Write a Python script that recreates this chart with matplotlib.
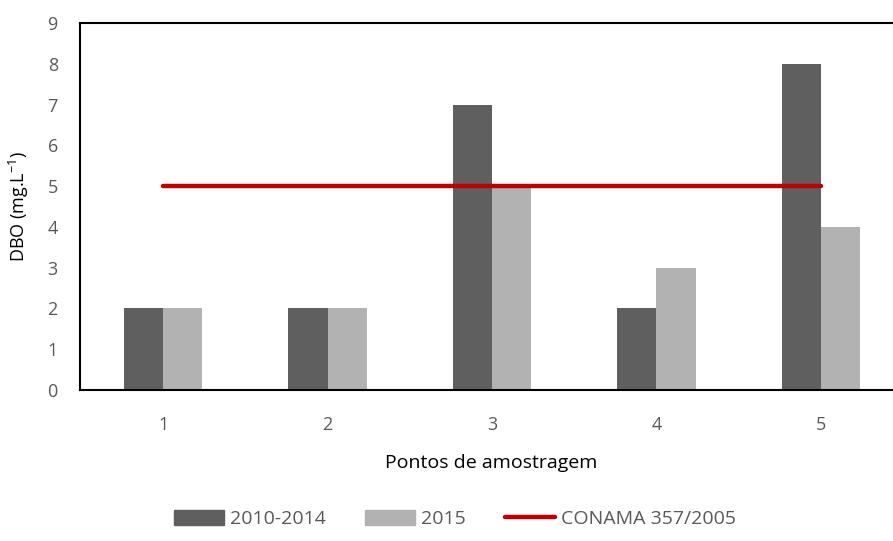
import matplotlib
matplotlib.use("Agg")
import matplotlib.pyplot as plt
from matplotlib.patches import Patch
from matplotlib.lines import Line2D
import numpy as np

categories = ["1", "2", "3", "4", "5"]
s2010_2014 = [2, 2, 7, 2, 8]
s2015 = [2, 2, 5, 3, 4]
conama = [5, 5, 5, 5, 5]
yticks = list(range(0, 10))

plt.rcParams['font.family'] = ['Open Sans', 'DejaVu Sans']
plt.rcParams['mathtext.fontset'] = 'custom'
plt.rcParams['mathtext.rm'] = 'Open Sans'
plt.rcParams['mathtext.it'] = 'Open Sans'

fig = plt.figure(figsize=(8.93, 5.41), dpi=100)
W, H = 893, 541
left, right, top, bottom = 80, 903, 23, 390
ax = fig.add_axes([left / W, 1 - bottom / H, (right - left) / W, (bottom - top) / H])

x = np.arange(1, len(categories) + 1)
bw = 0.238
dark = "#5f5f5f"
light = "#b2b2b2"
red = "#c00000"
ax.bar(x - bw / 2, s2010_2014, bw, color=dark, label="2010-2014")
ax.bar(x + bw / 2, s2015, bw, color=light, label="2015")
ax.plot(x, conama, color=red, lw=3.2, solid_capstyle="round", label="CONAMA 357/2005", zorder=3)

ax.set_xlim(0.494, 5.5)
ax.set_ylim(0, 9)
ax.set_yticks(yticks)
ax.set_xticks(x)
ax.set_xticklabels(categories)
ax.tick_params(axis="both", length=0, colors="#595959", labelsize=13)
ax.tick_params(axis="x", pad=19)
ax.tick_params(axis="y", pad=16)
for sp in ax.spines.values():
    sp.set_color("black")
    sp.set_linewidth(1.5)

ax.set_xlabel("Pontos de amostragem", fontsize=14, color="black", labelpad=14)
ax.set_ylabel("DBO (mg.L$\\mathregular{^{-1}}$)", fontsize=13, color="black", labelpad=12)

handles = [Patch(color=dark, label="2010-2014"), Patch(color=light, label="2015"),
           Line2D([0], [0], color=red, lw=3.2, solid_capstyle="round", label="CONAMA 357/2005")]
leg = fig.legend(handles=handles, loc="center", bbox_to_anchor=(455 / W, 1 - 519 / H), ncol=3,
                 frameon=False, fontsize=14, handlelength=2.6, handleheight=0.8,
                 handletextpad=0.3, columnspacing=2.0)
for t in leg.get_texts():
    t.set_color("#595959")

fig.savefig("out.png", dpi=100)
